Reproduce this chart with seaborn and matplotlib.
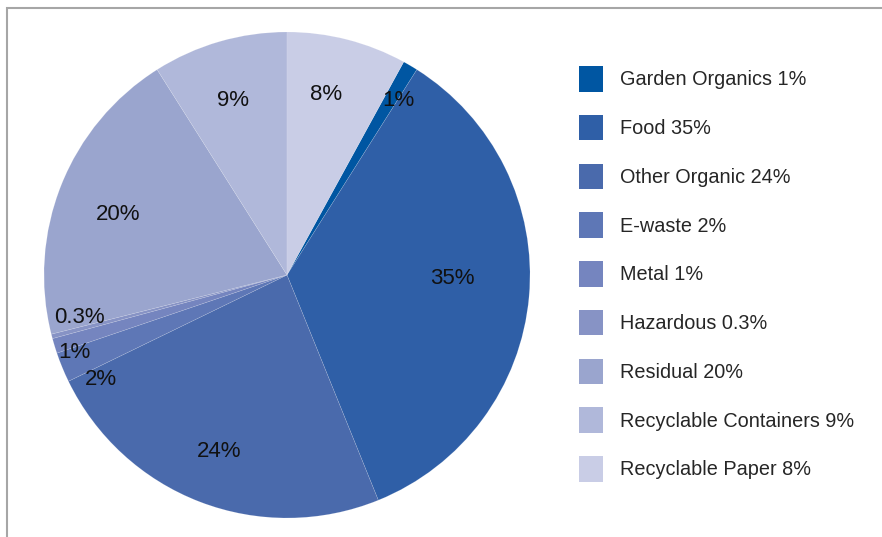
import matplotlib
matplotlib.use("Agg")
import matplotlib.pyplot as plt
import matplotlib.patches as mpatches
import seaborn as sns
import numpy as np

# waste composition (share of total, %)
categories = ["Garden Organics", "Food", "Other Organic", "E-waste", "Metal",
              "Hazardous", "Residual", "Recyclable Containers", "Recyclable Paper"]
shares = [1, 35, 24, 2, 1, 0.3, 20, 9, 8]
pct_labels = ["1%", "35%", "24%", "2%", "1%", "0.3%", "20%", "9%", "8%"]
colors = ["#0056A2", "#2F5FA7", "#4A6AAC", "#5E77B6", "#7585BF",
          "#8793C5", "#9AA5CE", "#B0B8DA", "#C9CDE6"]

sns.set_theme(style="white")
plt.rcParams['font.family'] = ['Liberation Sans', 'DejaVu Sans']

fig = plt.figure(figsize=(8.82, 5.37), dpi=100)

# grey frame (top and left edges visible)
frame = mpatches.Rectangle((7 / 882, -0.1), 1.2, 1.1 - 8 / 537, transform=fig.transFigure,
                           fill=False, edgecolor="#A6A6A6", linewidth=1.5)
fig.patches.append(frame)

cx, cy, R = 287, 275, 243
ax = fig.add_axes([(cx - R) / 882, (537 - cy - R) / 537, 2 * R / 882, 2 * R / 537])
ax.set_aspect("equal")

start = 90 - 360 * shares[-1] / sum(shares)
wedges, _ = ax.pie(shares, colors=colors, startangle=start, counterclock=False,
                   radius=1, wedgeprops=dict(edgecolor=(1, 1, 1, 0.2), linewidth=0.4))
ax.set_xlim(-1, 1)
ax.set_ylim(-1, 1)
ax.axis("off")

# label placement: radius fraction and angle tweak per slice
label_r = [0.85, 0.68, 0.78, 0.88, 0.93, 0.87, 0.74, 0.75, 0.76]
label_dang = [-2, 4, 0, 7, 3, -3, 2, 1, 2]
for w, txt, r, da in zip(wedges, pct_labels, label_r, label_dang):
    ang = np.deg2rad((w.theta1 + w.theta2) / 2 + da)
    ax.text(r * np.cos(ang), r * np.sin(ang), txt, ha="center", va="center",
            fontsize=16, color="#111111")

handles = [mpatches.Patch(facecolor=c, edgecolor="none") for c in colors]
legend_labels = [f"{n} {p}" for n, p in zip(categories, pct_labels)]
fig.legend(handles, legend_labels, loc="upper left",
           bbox_to_anchor=(579 / 882, 1 - 66 / 537), frameon=False,
           fontsize=14.3, handlelength=1.21, handleheight=1.6,
           handletextpad=0.86, labelspacing=1.17, borderpad=0, borderaxespad=0)

fig.savefig("out.png", dpi=100)
